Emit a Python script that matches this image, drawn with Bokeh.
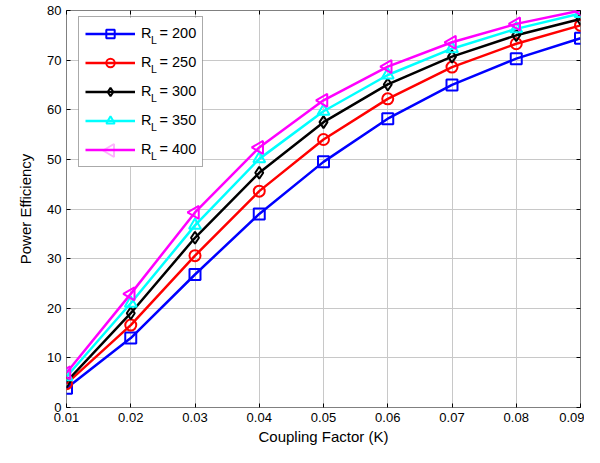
from bokeh.plotting import figure
from bokeh.models import (Range1d, FixedTicker, LinearAxis, Legend, LegendItem, Label,
                          PolyAnnotation, BoxAnnotation)
from bokeh.embed import file_html
from bokeh.resources import INLINE
import math

# ---- data ----
coupling = [0.01, 0.02, 0.03, 0.04, 0.05, 0.06, 0.07, 0.08, 0.09]
rl200 = [3.9, 14.0, 26.8, 39.0, 49.5, 58.2, 65.0, 70.3, 74.4]
rl250 = [4.8, 16.6, 30.6, 43.6, 54.0, 62.2, 68.6, 73.3, 77.0]
rl300 = [5.2, 19.0, 34.2, 47.3, 57.5, 65.1, 70.7, 75.0, 78.3]
rl350 = [6.2, 21.0, 36.7, 50.1, 59.7, 67.0, 72.3, 76.3, 79.4]
rl400 = [7.0, 22.9, 39.3, 52.4, 61.9, 68.7, 73.6, 77.3, 80.0]
load_values = ["200", "250", "300", "350", "400"]
x_ticks = [0.01, 0.02, 0.03, 0.04, 0.05, 0.06, 0.07, 0.08, 0.09]
x_tick_labels = ["0.01", "0.02", "0.03", "0.04", "0.05", "0.06", "0.07", "0.08", "0.09"]
y_ticks = [0, 10, 20, 30, 40, 50, 60, 70, 80]

FONT = "Liberation Sans"
W, H = 584, 447
MB_L, MB_R, MB_T, MB_B = 66, 4, 10, 39

p = figure(width=W, height=H, output_backend="svg", toolbar_location=None,
           x_range=Range1d(0.01, 0.09), y_range=Range1d(0, 80),
           min_border_left=MB_L, min_border_right=MB_R,
           min_border_top=MB_T, min_border_bottom=MB_B)
p.background_fill_color = "white"
p.border_fill_color = "white"
p.outline_line_color = "#808080"
p.outline_line_width = 1

p.xaxis.ticker = FixedTicker(ticks=x_ticks)
p.yaxis.ticker = FixedTicker(ticks=y_ticks)
p.xaxis.major_label_overrides = {t: s for t, s in zip(x_ticks, x_tick_labels)}
p.xaxis.axis_label = "Coupling Factor (K)"
p.yaxis.axis_label = "Power Efficiency"
for ax in (p.xaxis, p.yaxis):
    ax.axis_line_color = None
    ax.major_tick_in = 4
    ax.major_tick_out = 0
    ax.minor_tick_line_color = None
    ax.major_tick_line_color = "black"
    ax.major_label_text_font = FONT
    ax.major_label_text_font_size = "13px"
    ax.major_label_text_color = "black"
    ax.axis_label_text_font = FONT
    ax.axis_label_text_font_size = "15px"
    ax.axis_label_text_font_style = "normal"
    ax.axis_label_text_color = "black"
p.xaxis.major_label_standoff = 5
p.xaxis.axis_label_standoff = 3
p.yaxis.major_label_standoff = 5
p.yaxis.axis_label_standoff = 10

# mirrored ticks on top/right (box style)
for loc, tk in (("right", y_ticks), ("above", x_ticks)):
    ax = LinearAxis(ticker=FixedTicker(ticks=tk), axis_line_color=None,
                    major_tick_in=4, major_tick_out=0, minor_tick_line_color=None,
                    major_label_text_font_size="0px", major_label_standoff=0,
                    major_tick_line_color="black")
    p.add_layout(ax, loc)

p.xgrid.ticker = FixedTicker(ticks=x_ticks)
p.ygrid.ticker = FixedTicker(ticks=y_ticks)
p.grid.grid_line_color = "#c8c8c8"
p.grid.grid_line_width = 1

LEG_X, LEG_TOP, LEG_PAD, GLYPH_W, ITEM_H, SPACING, STANDOFF = 12, 8.5, 6, 50, 21, 8, 6
frame_h = H - MB_T - MB_B
leg_h = 2 * LEG_PAD + 5 * ITEM_H + 4 * SPACING
leg_bottom = frame_h - LEG_TOP - leg_h

# white backing box behind the (transparent) legend
p.add_layout(BoxAnnotation(left=LEG_X, right=LEG_X + 124,
                           top=frame_h - LEG_TOP, bottom=leg_bottom,
                           left_units="screen", right_units="screen",
                           top_units="screen", bottom_units="screen",
                           fill_color="white", fill_alpha=1.0, line_color=None,
                           level="glyph"))

series = [rl200, rl250, rl300, rl350, rl400]
colors = ["#0000ff", "#ff0000", "#000000", "#00ffff", "#ff00ff"]
markers = ["square", "circle", "diamond", "triangle", "triangle"]
sizes = [11, 11, 12, 12, 13]
angles = [0, 0, 0, 0, math.pi / 2]

items = []
for vals, col, mk, sz, ang, lv in zip(series, colors, markers, sizes, angles, load_values):
    r1 = p.line(coupling, vals, line_color=col, line_width=2.5)
    r2 = p.scatter(coupling, vals, marker=mk, size=sz, angle=ang,
                   line_color=col, line_width=2, fill_color=None)
    rends = [r1] if ang != 0 else [r1, r2]
    items.append(LegendItem(label="R  = " + lv, renderers=rends))

legend = Legend(items=items, location=(LEG_X, leg_bottom), padding=LEG_PAD,
                spacing=SPACING, glyph_width=GLYPH_W, glyph_height=ITEM_H,
                label_height=ITEM_H, label_standoff=STANDOFF,
                label_text_font=FONT, label_text_font_size="14.5px",
                label_text_color="black",
                border_line_color="#555555", border_line_width=1,
                background_fill_alpha=0)
p.add_layout(legend, "center")

# subscript "L" on each legend label
r_width = 10.5
for i in range(len(load_values)):
    cy = LEG_TOP + LEG_PAD + ITEM_H / 2 + i * (ITEM_H + SPACING)
    p.add_layout(Label(x=LEG_X + LEG_PAD + GLYPH_W + STANDOFF + r_width,
                       y=frame_h - cy - 5, x_units="screen", y_units="screen",
                       text="L", text_font=FONT, text_font_size="10.5px",
                       text_baseline="middle", text_align="left", text_color="black"))

# left-pointing triangle marker for the last legend entry
cx = LEG_X + LEG_PAD + GLYPH_W / 2
cy = frame_h - (LEG_TOP + LEG_PAD + ITEM_H / 2 + 4 * (ITEM_H + SPACING))
tri = PolyAnnotation(xs=[cx - 6.5, cx + 4.5, cx + 4.5], ys=[cy, cy + 6.5, cy - 6.5],
                     xs_units="screen", ys_units="screen",
                     fill_color="white", fill_alpha=1.0,
                     line_color="#ff00ff", line_width=2)
p.add_layout(tri)

open("out.html", "w").write(file_html(p, INLINE))
